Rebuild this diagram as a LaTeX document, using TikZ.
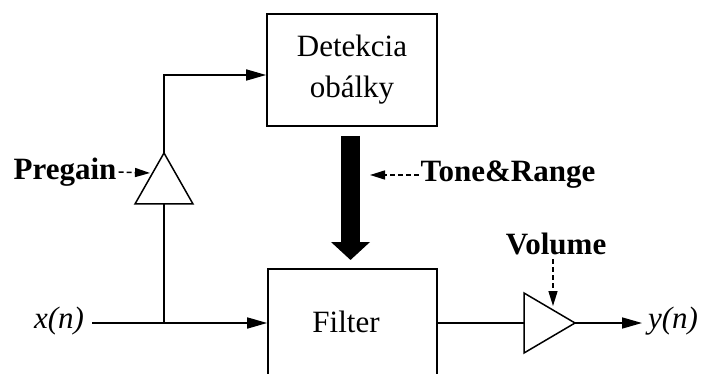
\documentclass[tikz,border=0pt]{standalone}
\usepackage{fontspec}
\setmainfont{Liberation Serif}
\usetikzlibrary{arrows.meta,calc}

\tikzset{
  txt/.style={font=\fontsize{31}{41}\selectfont, inner sep=2pt},
  btxt/.style={txt, font=\fontsize{31}{41}\selectfont\bfseries},
  itxt/.style={txt, font=\fontsize{31}{41}\selectfont\itshape},
  box/.style={draw, line width=1.7pt, inner sep=0pt},
  wire/.style={line width=1.7pt},
  arr/.style={wire, -{Triangle[length=20pt,width=11pt]}},
  ctl/.style={line width=1.5pt, dash pattern=on 5pt off 3pt, -{Triangle[length=15pt,width=9pt]}},
  amp/.style={line width=1.5pt, fill=white, line join=miter}
}

\begin{document}
\begin{tikzpicture}[x=1pt,y=-1pt]
  \clip (0,0) rectangle (701,374);
  \fill[white] (0,0) rectangle (701,374);

  % blocks
  \node[box, minimum width=170pt, minimum height=112pt, align=center, txt] (det) at (352,70)
    {Detekcia\\obálky};
  \node[box, minimum width=169pt, minimum height=160pt, anchor=north] (filt) at (352.5,268) {};
  \node[txt] (filttext) at (346,322) {Filter};

  % amplifiers
  \coordinate (a1apex) at (164,153);
  \coordinate (a1base) at (164,204);
  \draw[amp] (a1apex) -- (193,204) -- (135,204) -- cycle;
  \coordinate (a2in) at (524,323);
  \coordinate (a2out) at (575,323);
  \draw[amp] (524,293) -- (a2out) -- (524,353) -- cycle;

  % signal labels
  \node[itxt] (xin) at (59,321) {x(n)};
  \node[itxt] (yout) at (673,321) {y(n)};
  \coordinate (xstart) at (92,323);
  \coordinate (junc) at (164,323);
  \coordinate (yend) at (642,323);

  % signal path
  \draw[wire] (xstart) -- (junc);
  \draw[arr] (junc) -- (junc -| filt.west);
  \draw[wire] (junc) -- (a1base);
  \coordinate (corner) at (164,75);
  \draw[arr] (a1apex) -- (corner) -- (corner -| det.west);
  \draw[wire] (a2in -| filt.east) -- (a2in);
  \draw[arr] (a2out) -- (yend);

  % envelope control into the filter
  \draw[line width=19pt, -{Triangle[length=18pt,width=38pt]}]
    ($(det.south)+(-1.5,9)$) -- ($(filt.north)+(-2,-8)$);

  % parameter controls
  \node[btxt] (pregain) at (65,172) {Pregain};
  \coordinate (pgtip) at (150,173);
  \draw[ctl] (pregain.east) -- (pgtip);

  \node[btxt] (tone) at (508,175) {Tone\&Range};
  \coordinate (tonetip) at (370,175);
  \draw[ctl] (tone.west) -- (tonetip);

  \node[btxt] (volume) at (556,244) {Volume};
  \coordinate (voltip) at (553,306);
  \draw[ctl] (553,259) -- (voltip);
\end{tikzpicture}
\end{document}
